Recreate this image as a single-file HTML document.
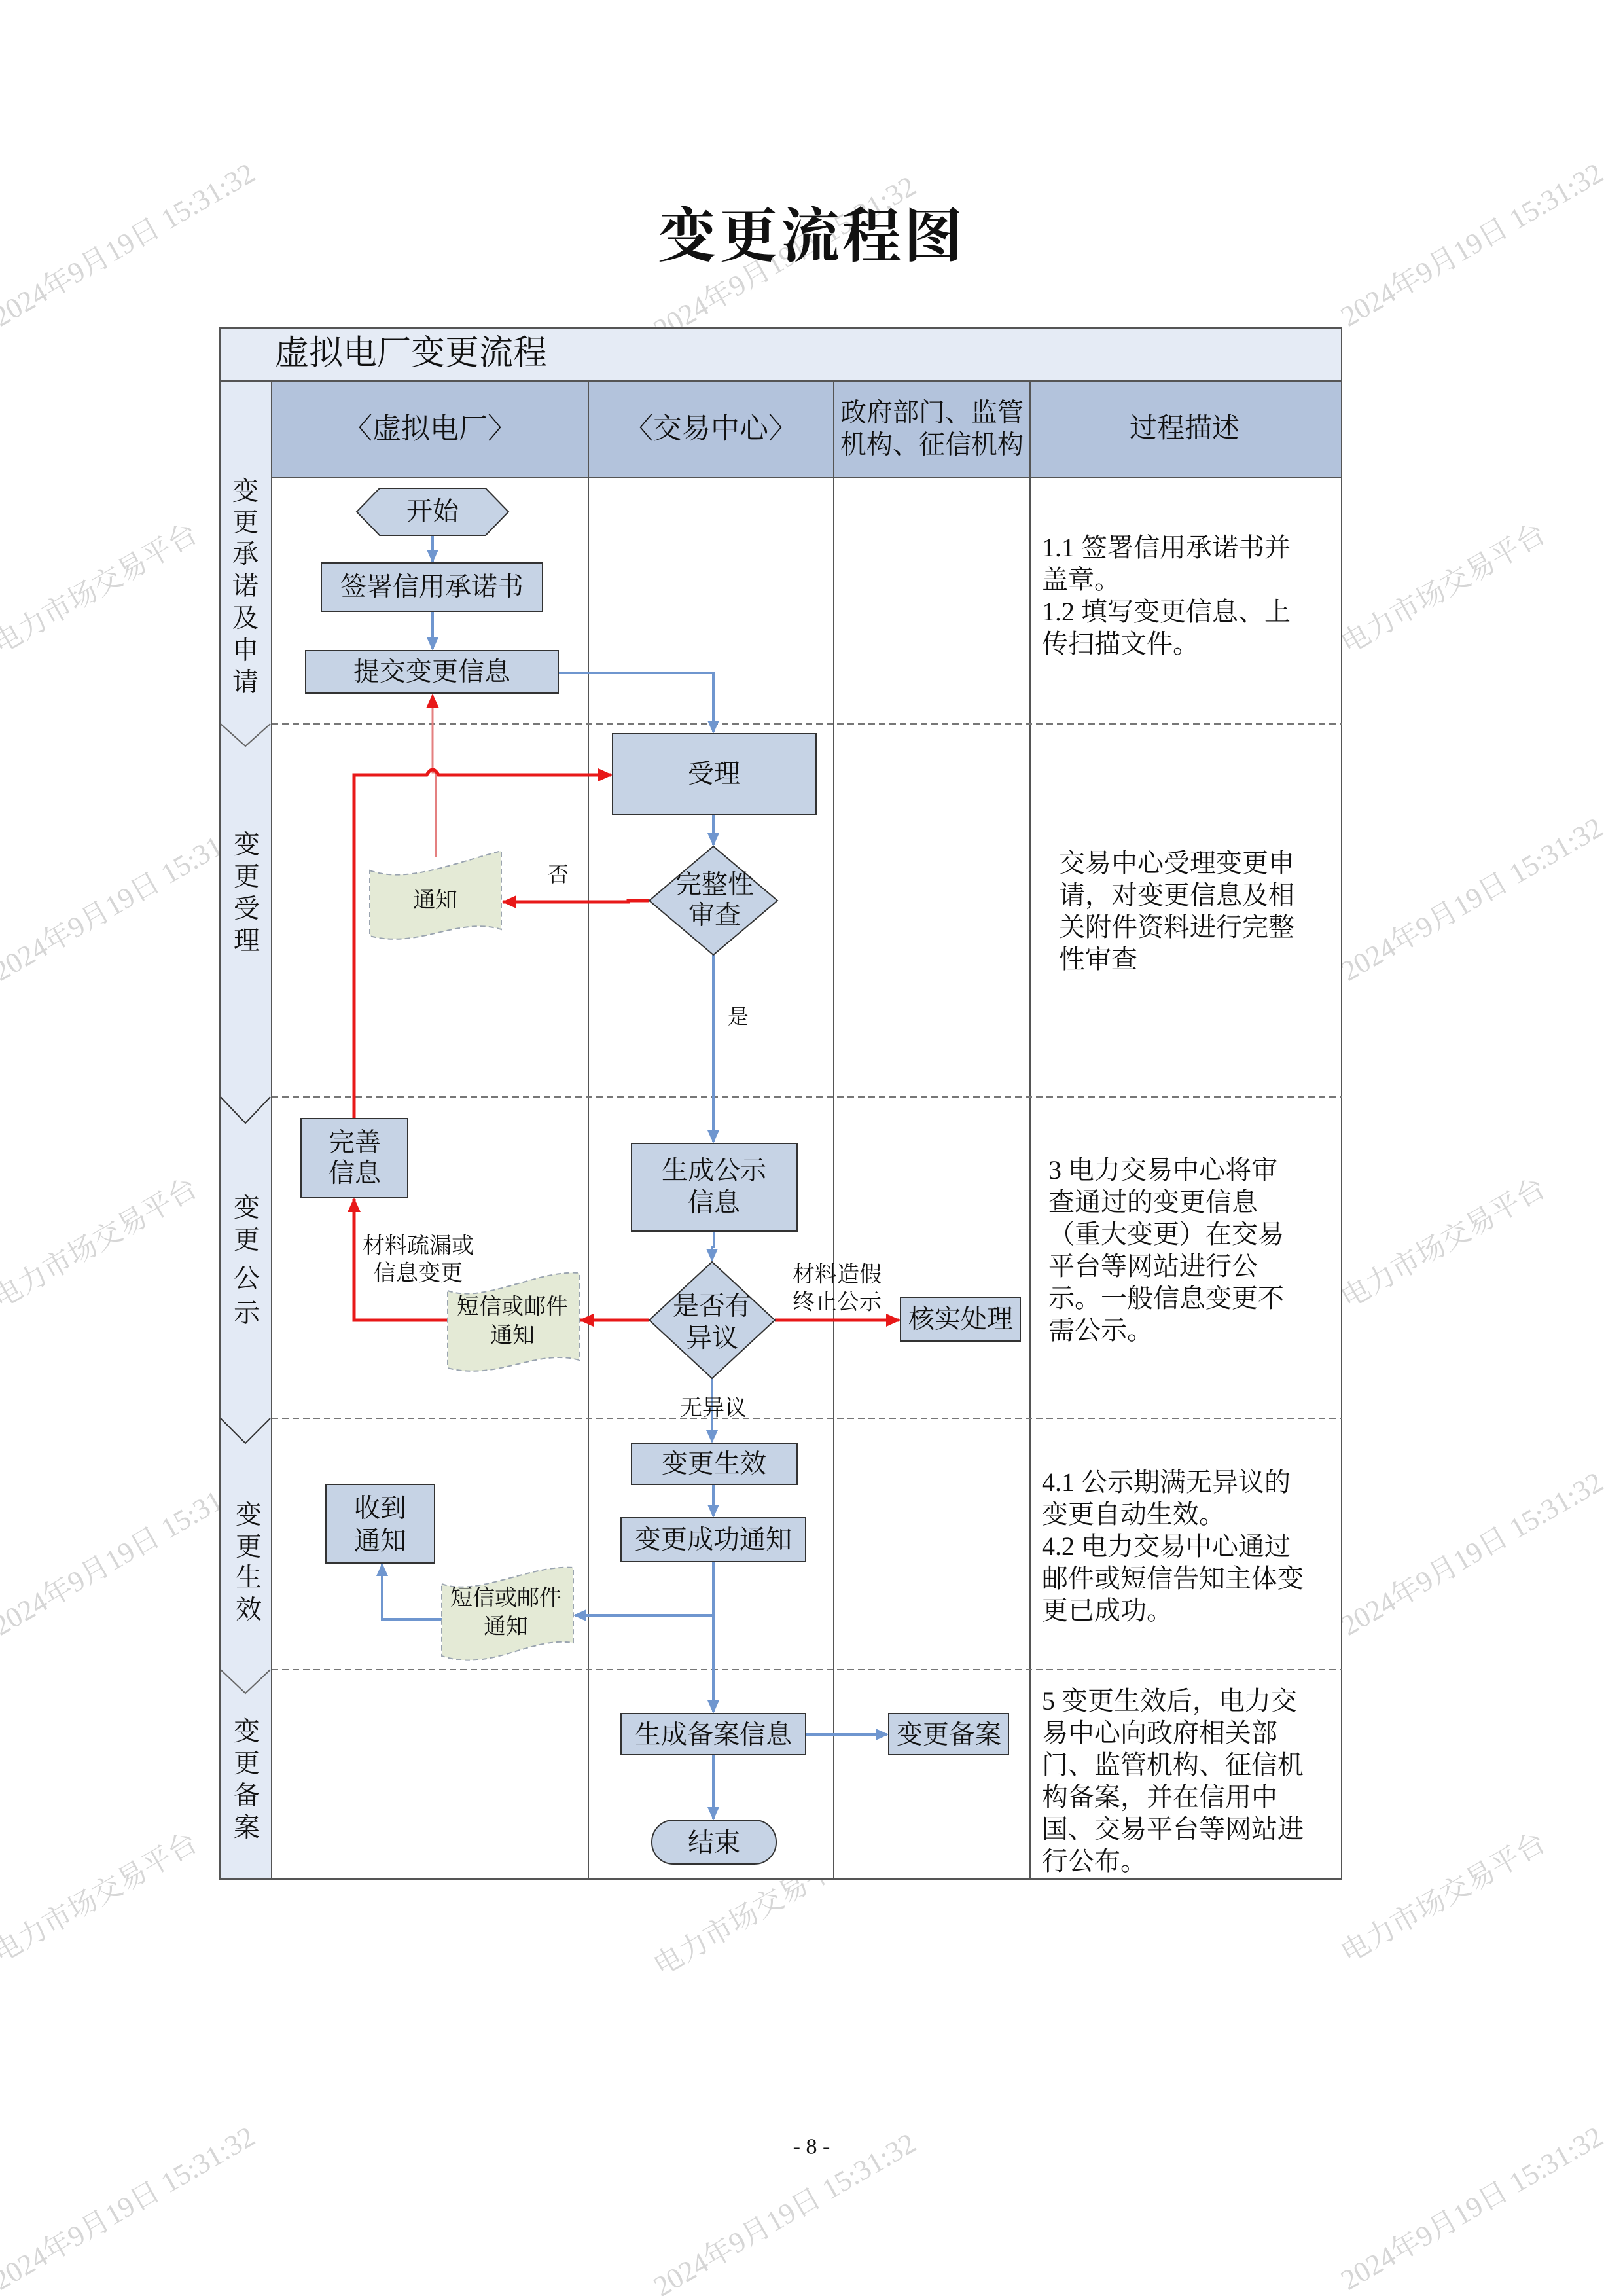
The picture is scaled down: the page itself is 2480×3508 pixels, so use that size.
<!DOCTYPE html>
<html><head><meta charset="utf-8"><style>
html,body{margin:0;padding:0;background:#fff}
svg{display:block}
text{font-family:"Liberation Serif","Noto Serif CJK SC","Noto Sans CJK SC",serif;fill:#111}
.n{font-size:40px;text-anchor:middle;dominant-baseline:central}
.d{font-size:40px}
.s{font-size:40px;text-anchor:middle;dominant-baseline:central}
.wm{font-family:"Liberation Serif","Noto Serif CJK SC",serif;font-size:44px;fill:#d6d6d6}
</style></head><body>
<svg width="2480" height="3508" viewBox="0 0 2480 3508" xmlns="http://www.w3.org/2000/svg">
<defs>
<marker id="ar2" markerWidth="22" markerHeight="22" refX="20" refY="11" orient="auto" markerUnits="userSpaceOnUse" viewBox="0 0 22 22"><path d="M0,1 L22,11 L0,21 z" fill="#e81818"/></marker>
<marker id="ab2" markerWidth="20" markerHeight="20" refX="18" refY="10" orient="auto" markerUnits="userSpaceOnUse" viewBox="0 0 20 20"><path d="M0,1 L20,10 L0,19 z" fill="#6f96cf"/></marker>
</defs>

<g>
<text class="wm" transform="translate(0,500) rotate(-30)">2024年9月19日 15:31:32</text>
<text class="wm" transform="translate(1010,520) rotate(-30)">2024年9月19日 15:31:32</text>
<text class="wm" transform="translate(2060,500) rotate(-30)">2024年9月19日 15:31:32</text>
<text class="wm" transform="translate(0,1000) rotate(-30)">电力市场交易平台</text>
<text class="wm" transform="translate(1010,1020) rotate(-30)">电力市场交易平台</text>
<text class="wm" transform="translate(2060,1000) rotate(-30)">电力市场交易平台</text>
<text class="wm" transform="translate(0,1500) rotate(-30)">2024年9月19日 15:31:32</text>
<text class="wm" transform="translate(1010,1520) rotate(-30)">2024年9月19日 15:31:32</text>
<text class="wm" transform="translate(2060,1500) rotate(-30)">2024年9月19日 15:31:32</text>
<text class="wm" transform="translate(0,2000) rotate(-30)">电力市场交易平台</text>
<text class="wm" transform="translate(1010,2020) rotate(-30)">电力市场交易平台</text>
<text class="wm" transform="translate(2060,2000) rotate(-30)">电力市场交易平台</text>
<text class="wm" transform="translate(0,2500) rotate(-30)">2024年9月19日 15:31:32</text>
<text class="wm" transform="translate(1010,2520) rotate(-30)">2024年9月19日 15:31:32</text>
<text class="wm" transform="translate(2060,2500) rotate(-30)">2024年9月19日 15:31:32</text>
<text class="wm" transform="translate(0,3000) rotate(-30)">电力市场交易平台</text>
<text class="wm" transform="translate(1010,3020) rotate(-30)">电力市场交易平台</text>
<text class="wm" transform="translate(2060,3000) rotate(-30)">电力市场交易平台</text>
<text class="wm" transform="translate(0,3500) rotate(-30)">2024年9月19日 15:31:32</text>
<text class="wm" transform="translate(1010,3510) rotate(-30)">2024年9月19日 15:31:32</text>
<text class="wm" transform="translate(2060,3500) rotate(-30)">2024年9月19日 15:31:32</text>
</g>

<text x="1240" y="362" style="font-size:90px;font-weight:bold;text-anchor:middle;dominant-baseline:central;letter-spacing:4px">变更流程图</text>

<rect x="336" y="501" width="1714" height="81" fill="#e5ebf5" stroke="#555" stroke-width="2"/>
<text x="420" y="540" style="font-size:52px;dominant-baseline:central">虚拟电厂变更流程</text>

<rect x="336" y="583" width="79" height="2288" fill="#e3eaf5" stroke="#555" stroke-width="2"/>
<polyline points="337,1106 375,1140 413,1106" fill="none" stroke="#666" stroke-width="2"/>
<polyline points="337,1676 375,1716 413,1676" fill="none" stroke="#333" stroke-width="2"/>
<polyline points="337,2167 375,2205 413,2167" fill="none" stroke="#333" stroke-width="2"/>
<polyline points="337,2551 375,2587 413,2551" fill="none" stroke="#666" stroke-width="2"/>

<rect x="415" y="583" width="1635" height="147" fill="#b3c3dc" stroke="#555" stroke-width="2"/>
<rect x="415" y="730" width="1635" height="2141" fill="#fff" stroke="#555" stroke-width="2"/>
<line x1="899" y1="583" x2="899" y2="2871" stroke="#555" stroke-width="2"/>
<line x1="1274" y1="583" x2="1274" y2="2871" stroke="#555" stroke-width="2"/>
<line x1="1574" y1="583" x2="1574" y2="2871" stroke="#555" stroke-width="2"/>
<g stroke="#777" stroke-width="2" stroke-dasharray="10,6">
<line x1="415" y1="1106" x2="2050" y2="1106"/>
<line x1="415" y1="1676" x2="2050" y2="1676"/>
<line x1="415" y1="2167" x2="2050" y2="2167"/>
<line x1="415" y1="2551" x2="2050" y2="2551"/>
</g>

<text class="n" x="657" y="655" style="font-size:44px">〈虚拟电厂〉</text>
<text class="n" x="1086" y="655" style="font-size:44px">〈交易中心〉</text>
<text class="n" x="1424" y="630" style="font-size:40px">政府部门、监管</text>
<text class="n" x="1424" y="679" style="font-size:40px">机构、征信机构</text>
<text class="n" x="1810" y="655" style="font-size:42px">过程描述</text>

<g>
<text class="s" x="375" y="750">变</text><text class="s" x="375" y="798">更</text><text class="s" x="375" y="846">承</text><text class="s" x="375" y="895">诺</text><text class="s" x="375" y="944">及</text><text class="s" x="375" y="993">申</text><text class="s" x="375" y="1042">请</text>
<text class="s" x="377" y="1290">变</text><text class="s" x="377" y="1339">更</text><text class="s" x="377" y="1388">受</text><text class="s" x="377" y="1437">理</text>
<text class="s" x="377" y="1845">变</text><text class="s" x="377" y="1894">更</text><text class="s" x="377" y="1953">公</text><text class="s" x="377" y="2006">示</text>
<text class="s" x="380" y="2314">变</text><text class="s" x="380" y="2363">更</text><text class="s" x="380" y="2410">生</text><text class="s" x="380" y="2459">效</text>
<text class="s" x="377" y="2645">变</text><text class="s" x="377" y="2694">更</text><text class="s" x="377" y="2743">备</text><text class="s" x="377" y="2792">案</text>
</g>

<g stroke="#6f96cf" stroke-width="4" fill="none">
<line x1="661" y1="818" x2="661" y2="858" marker-end="url(#ab2)"/>
<line x1="661" y1="934" x2="661" y2="992" marker-end="url(#ab2)"/>
<polyline points="853,1028 1090,1028 1090,1119" marker-end="url(#ab2)"/>
<line x1="1090" y1="1244" x2="1090" y2="1291" marker-end="url(#ab2)"/>
<line x1="1090" y1="1459" x2="1090" y2="1745" marker-end="url(#ab2)"/>
<polyline points="1091,1881 1091,1905 1088,1905 1088,1926" marker-end="url(#ab2)"/>
<line x1="1088" y1="2106" x2="1088" y2="2203" marker-end="url(#ab2)"/>
<line x1="1090" y1="2268" x2="1090" y2="2317" marker-end="url(#ab2)"/>
<line x1="1090" y1="2386" x2="1090" y2="2616" marker-end="url(#ab2)"/>
<polyline points="1090,2468 878,2468" marker-end="url(#ab2)"/>
<polyline points="677,2474 584,2474 584,2390" marker-end="url(#ab2)"/>
<line x1="1231" y1="2650" x2="1356" y2="2650" marker-end="url(#ab2)"/>
<line x1="1090" y1="2681" x2="1090" y2="2779" marker-end="url(#ab2)"/>
</g>

<g stroke="#e81818" fill="none">
<polyline points="666,1310 666,1180 661,1180 661,1062" stroke="#e48080" stroke-width="3" marker-end="url(#ar2)"/>
<path d="M541,1709 L541,1184 L652,1184 Q661,1168 670,1184 L934,1184" stroke-width="5" marker-end="url(#ar2)"/>
<polyline points="992,1376 960,1376 960,1378 769,1378" stroke-width="5" marker-end="url(#ar2)"/>
<polyline points="992,2017 887,2017" stroke-width="5" marker-end="url(#ar2)"/>
<polyline points="686,2017 541,2017 541,1832" stroke-width="5" marker-end="url(#ar2)"/>
<polyline points="1184,2017 1374,2017" stroke-width="5" marker-end="url(#ar2)"/>
</g>

<g stroke="#333" stroke-width="2" fill="#c6d3e5">
<polygon points="580,746 742,746 777,782 742,818 580,818 545,782"/>
<rect x="491" y="860" width="338" height="74"/>
<rect x="467" y="994" width="386" height="65"/>
<rect x="936" y="1121" width="311" height="123"/>
<polygon points="1090,1293 1188,1376 1090,1459 992,1376"/>
<rect x="965" y="1747" width="253" height="134"/>
<rect x="460" y="1709" width="163" height="121"/>
<polygon points="1088,1928 1184,2017 1088,2106 992,2017"/>
<rect x="1376" y="1982" width="183" height="67"/>
<rect x="965" y="2205" width="253" height="63"/>
<rect x="949" y="2319" width="282" height="67"/>
<rect x="498" y="2268" width="166" height="120"/>
<rect x="949" y="2618" width="282" height="63"/>
<rect x="1358" y="2618" width="183" height="63"/>
<rect x="996" y="2781" width="190" height="67" rx="33" ry="33"/>
</g>
<g fill="#e4ead6" stroke="#9aa4b0" stroke-width="2" stroke-dasharray="8,5">
<path d="M565,1330 C620,1350 690,1320 766,1300 L766,1420 C700,1400 640,1450 565,1430 Z"/>
<path d="M684,1972 C740,1992 820,1940 885,1945 L885,2078 C820,2060 760,2110 684,2090 Z"/>
<path d="M675,2420 C730,2440 810,2390 876,2395 L876,2510 C810,2500 750,2555 675,2530 Z"/>
</g>

<text class="n" x="661" y="781">开始</text>
<text class="n" x="660" y="896">签署信用承诺书</text>
<text class="n" x="660" y="1026">提交变更信息</text>
<text class="n" x="1091" y="1182">受理</text>
<text class="n" x="1092" y="1351">完整性</text>
<text class="n" x="1092" y="1398">审查</text>
<text class="n" x="665" y="1376" style="font-size:34px">通知</text>
<text class="n" x="853" y="1336" style="font-size:32px">否</text>
<text class="n" x="1128" y="1553" style="font-size:32px">是</text>
<text class="n" x="1091" y="1788">生成公示</text>
<text class="n" x="1091" y="1837">信息</text>
<text class="n" x="542" y="1745">完善</text>
<text class="n" x="542" y="1792">信息</text>
<text class="n" x="1088" y="1995">是否有</text>
<text class="n" x="1088" y="2044">异议</text>
<text class="n" x="783" y="1997" style="font-size:34px">短信或邮件</text>
<text class="n" x="783" y="2041" style="font-size:34px">通知</text>
<text class="n" x="639" y="1904" style="font-size:34px">材料疏漏或</text>
<text class="n" x="639" y="1946" style="font-size:34px">信息变更</text>
<text class="n" x="1279" y="1948" style="font-size:34px">材料造假</text>
<text class="n" x="1279" y="1990" style="font-size:34px">终止公示</text>
<text class="n" x="1468" y="2015">核实处理</text>
<text class="n" x="1090" y="2152" style="font-size:34px">无异议</text>
<text class="n" x="1091" y="2236">变更生效</text>
<text class="n" x="1090" y="2352">变更成功通知</text>
<text class="n" x="581" y="2304">收到</text>
<text class="n" x="581" y="2354">通知</text>
<text class="n" x="773" y="2442" style="font-size:34px">短信或邮件</text>
<text class="n" x="773" y="2486" style="font-size:34px">通知</text>
<text class="n" x="1090" y="2650">生成备案信息</text>
<text class="n" x="1450" y="2650">变更备案</text>
<text class="n" x="1091" y="2815">结束</text>

<g>
<text class="d" x="1592" y="850">1.1 签署信用承诺书并</text>
<text class="d" x="1592" y="899">盖章。</text>
<text class="d" x="1592" y="948">1.2 填写变更信息、上</text>
<text class="d" x="1592" y="997">传扫描文件。</text>

<text class="d" x="1618" y="1332">交易中心受理变更申</text>
<text class="d" x="1618" y="1381">请，对变更信息及相</text>
<text class="d" x="1618" y="1430">关附件资料进行完整</text>
<text class="d" x="1618" y="1479">性审查</text>

<text class="d" x="1602" y="1801">3 电力交易中心将审</text>
<text class="d" x="1602" y="1850">查通过的变更信息</text>
<text class="d" x="1602" y="1899">（重大变更）在交易</text>
<text class="d" x="1602" y="1948">平台等网站进行公</text>
<text class="d" x="1602" y="1997">示。一般信息变更不</text>
<text class="d" x="1602" y="2046">需公示。</text>

<text class="d" x="1592" y="2278">4.1 公示期满无异议的</text>
<text class="d" x="1592" y="2327">变更自动生效。</text>
<text class="d" x="1592" y="2376">4.2 电力交易中心通过</text>
<text class="d" x="1592" y="2425">邮件或短信告知主体变</text>
<text class="d" x="1592" y="2474">更已成功。</text>

<text class="d" x="1592" y="2612">5 变更生效后，电力交</text>
<text class="d" x="1592" y="2661">易中心向政府相关部</text>
<text class="d" x="1592" y="2710">门、监管机构、征信机</text>
<text class="d" x="1592" y="2759">构备案，并在信用中</text>
<text class="d" x="1592" y="2808">国、交易平台等网站进</text>
<text class="d" x="1592" y="2857">行公布。</text>
</g>

<text x="1240" y="3280" style="font-size:34px;text-anchor:middle;dominant-baseline:central">- 8 -</text>
</svg>
</body></html>
